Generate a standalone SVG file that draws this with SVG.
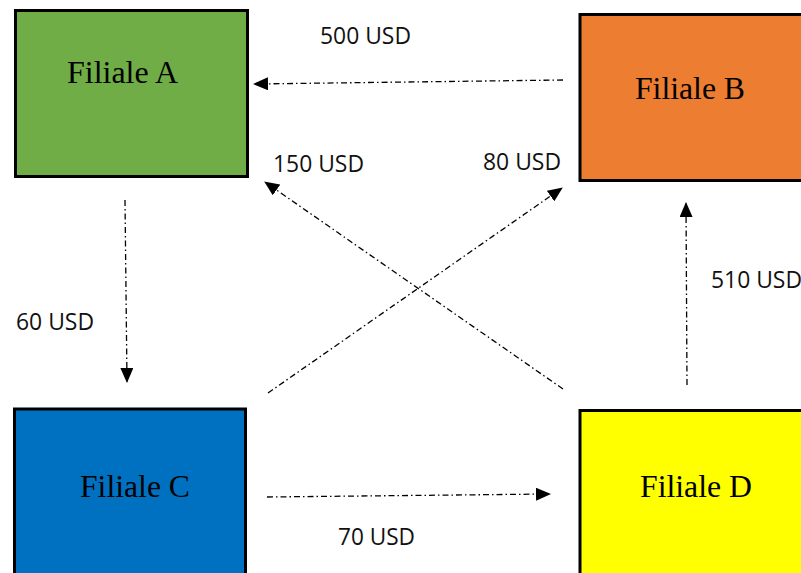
<svg xmlns="http://www.w3.org/2000/svg" width="801" height="573" viewBox="0 0 801 573">
<style>
.box{stroke:#000;stroke-width:3}
.name{font-family:"Liberation Serif","Times New Roman",serif;font-size:32px;fill:#000}
.lbl{font-family:"Open Sans","Liberation Sans",sans-serif;font-size:23px;fill:#111}
.con{fill:none;stroke:#000;stroke-width:1.3;stroke-dasharray:6 3 1.5 3;marker-end:url(#ah)}
</style>
<defs>
<marker id="ah" viewBox="0 0 15 13" refX="14" refY="6.5" markerWidth="15" markerHeight="13" markerUnits="userSpaceOnUse" orient="auto">
<path d="M0,0 L15,6.5 L0,13 Z" fill="#000"/>
</marker>
</defs>
<rect width="801" height="573" fill="#fff"/>
<g id="filiale-a">
<rect class="box" x="15.5" y="10.5" width="232" height="166" fill="#70ad47"/>
<text class="name" x="67" y="83" textLength="111" lengthAdjust="spacingAndGlyphs">Filiale A</text>
</g>
<g id="filiale-b">
<rect class="box" x="580" y="14.5" width="230" height="166" fill="#ed7d31"/>
<text class="name" x="635" y="99" textLength="110" lengthAdjust="spacingAndGlyphs">Filiale B</text>
</g>
<g id="filiale-c">
<rect class="box" x="14.5" y="409" width="231" height="180" fill="#0070c0"/>
<text class="name" x="80" y="497" textLength="110" lengthAdjust="spacingAndGlyphs">Filiale C</text>
</g>
<g id="filiale-d">
<rect class="box" x="580" y="410.5" width="230" height="180" fill="#ffff00"/>
<text class="name" x="640" y="497" textLength="112" lengthAdjust="spacingAndGlyphs">Filiale D</text>
</g>
<g id="connectors">
<line class="con" x1="563" y1="80" x2="254" y2="84"/>
<line class="con" x1="125" y1="200" x2="127" y2="382"/>
<line class="con" x1="267" y1="497" x2="550" y2="494"/>
<line class="con" x1="687" y1="385" x2="686" y2="203"/>
<line class="con" x1="268" y1="393" x2="562" y2="188"/>
<line class="con" x1="563" y1="389" x2="265" y2="182"/>
</g>
<g id="labels">
<text class="lbl" x="320" y="44" textLength="91" lengthAdjust="spacingAndGlyphs">500 USD</text>
<text class="lbl" x="273" y="172" textLength="91" lengthAdjust="spacingAndGlyphs">150 USD</text>
<text class="lbl" x="483" y="170" textLength="78" lengthAdjust="spacingAndGlyphs">80 USD</text>
<text class="lbl" x="16" y="330" textLength="78" lengthAdjust="spacingAndGlyphs">60 USD</text>
<text class="lbl" x="711" y="288" textLength="91" lengthAdjust="spacingAndGlyphs">510 USD</text>
<text class="lbl" x="338" y="545" textLength="77" lengthAdjust="spacingAndGlyphs">70 USD</text>
</g>
</svg>
